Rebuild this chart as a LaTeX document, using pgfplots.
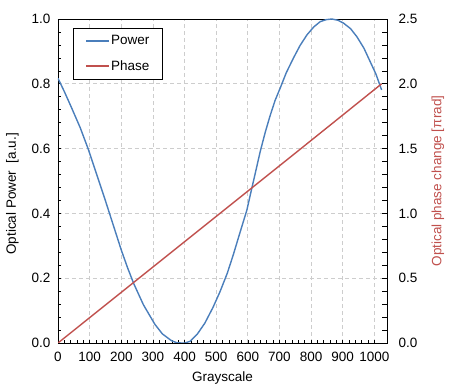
\documentclass[border=0pt]{standalone}
\usepackage{fontspec}
\setmainfont{Liberation Sans}
\usepackage{pgfplots}
\pgfplotsset{compat=1.18}
\definecolor{pblue}{RGB}{74,126,187}
\definecolor{pred}{RGB}{192,80,77}
\definecolor{gridgray}{RGB}{205,205,205}
\begin{document}
\fontsize{13.5bp}{16bp}\selectfont
\begin{tikzpicture}
\begin{axis}[name=main,
  scale only axis, width=329bp, height=324bp,
  xmin=0, xmax=1040, ymin=0, ymax=1,
  xtick={0,100,200,300,400,500,600,700,800,900,1000},
  ytick={0,0.2,0.4,0.6,0.8,1},
  minor x tick num=4, minor y tick num=4,
  xtick pos=bottom, ytick pos=left,
  tick align=inside,
  major tick length=3bp, minor tick length=3bp,
  grid=major,
  major grid style={gridgray, dash pattern=on 4bp off 3bp, line width=0.7bp},
  axis line style={line width=0.9bp},
  tick style={black, line width=0.6bp},
  /pgf/number format/assume math mode=true,
  yticklabel style={/pgf/number format/fixed, /pgf/number format/fixed zerofill, /pgf/number format/precision=1, xshift=-3bp},
  xticklabel style={/pgf/number format/set thousands separator={}, yshift=-4bp},
  xlabel={Grayscale},
  xlabel style={at={(axis description cs:0.5,-0.108)}, anchor=center},
  ylabel={Optical Power\ \ [a.u.]},
  ylabel style={at={(axis description cs:-0.139,0.46)}, anchor=center},
]
\addplot[pblue, line width=1.4bp] coordinates {
(0,0.817) (20,0.776) (42,0.728) (70,0.665) (95,0.6) (120,0.527) (148,0.445)
(175,0.363) (200,0.287) (220,0.232) (240,0.182) (270,0.118) (306,0.058) (330,0.028)
(359,0.007) (375,0.001) (390,0.0) (401,0.0) (417,0.005) (440,0.027)
(464,0.061) (490,0.11) (512,0.158) (535,0.215) (554,0.272) (575,0.34)
(597,0.41) (612,0.475) (625,0.53) (639,0.59) (655,0.65) (670,0.70)
(686,0.748) (702,0.786) (722,0.835) (744,0.879) (765,0.918) (787,0.951)
(808,0.975) (829,0.992) (848,0.998) (866,1.0) (885,0.996) (903,0.987)
(925,0.97) (945,0.945) (967,0.91) (987,0.868) (1005,0.83) (1023,0.781)
};
\end{axis}
\begin{axis}[
  scale only axis, width=329bp, height=324bp,
  xmin=0, xmax=1040, ymin=0, ymax=2.5,
  axis x line=none, axis y line*=right,
  ytick={0,0.5,1,1.5,2,2.5},
  minor y tick num=4,
  tick align=inside,
  major tick length=5bp, minor tick length=5bp,
  axis line style={line width=0.9bp},
  tick style={black, line width=0.6bp},
  /pgf/number format/assume math mode=true,
  yticklabel style={/pgf/number format/fixed, /pgf/number format/fixed zerofill, /pgf/number format/precision=1, xshift=7bp},
  ylabel={Optical phase change [πrad]},
  ylabel style={at={(axis description cs:1.155,0.5)}, anchor=center, color=pred},
  legend style={at={(0.046,0.972)}, anchor=north west, draw=black, line width=0.8bp,
    fill=white, row sep=11.5bp, inner xsep=12bp, inner ysep=6bp,
    nodes={inner sep=1bp}},
  legend cell align=left,
  legend image code/.code={\draw[#1, line width=1.6bp] (0bp,0bp) -- (23bp,0bp);},
]
\addlegendimage{pblue}
\addlegendentry{Power}
\addplot[pred, line width=1.4bp] coordinates {
(0,0) (256,0.5) (512,1.0) (768,1.5) (1023,2.0)
};
\addlegendentry{Phase}
\end{axis}
\pgfresetboundingbox
\path[use as bounding box] ([xshift=-58bp,yshift=-46bp]main.south west) rectangle ([xshift=65bp,yshift=19bp]main.north east);
\end{tikzpicture}
\end{document}
